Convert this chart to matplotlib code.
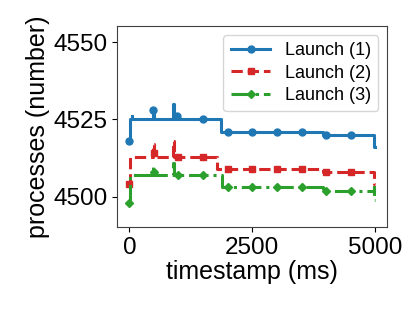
import matplotlib
matplotlib.use("Agg")
import matplotlib.pyplot as plt

plt.rcParams['font.family'] = ['Liberation Sans', 'DejaVu Sans']

# breakpoints (step-post), mark = marker drawn at that point
t1 = [0, 15, 45, 55, 490, 500, 895, 905, 970, 980, 1500, 1855, 2000, 2500, 3000, 3500, 3930, 4000, 4500, 4980, 4990]
y1 = [4518, 4525, 4526, 4525, 4528, 4525, 4530, 4525, 4526, 4525, 4525, 4521, 4521, 4521, 4521, 4521, 4520, 4520, 4520, 4516, 4516]
m1 = [0, 4, 8, 10, 12, 13, 14, 15, 17, 18]

t2 = [0, 20, 485, 495, 505, 895, 905, 990, 1500, 1780, 2000, 2500, 3000, 3500, 3930, 4000, 4500, 4980, 4990]
y2 = [4504, 4513, 4517, 4514, 4513, 4518, 4513, 4513, 4513, 4509, 4509, 4509, 4509, 4509, 4508, 4508, 4508, 4504, 4504]
m2 = [0, 3, 7, 8, 10, 11, 12, 13, 15, 16]

t3 = [0, 20, 485, 495, 505, 895, 905, 990, 1500, 1880, 2000, 2500, 3000, 3500, 3930, 4000, 4500, 4970, 4980, 4990]
y3 = [4498, 4507, 4510, 4508, 4507, 4511, 4507, 4507, 4507, 4503, 4503, 4503, 4503, 4503, 4502, 4502, 4502, 4503, 4499, 4499]
m3 = [0, 3, 7, 8, 10, 11, 12, 13, 15, 16]

labels = ['Launch (1)', 'Launch (2)', 'Launch (3)']
xticks = [0, 2500, 5000]
yticks = [4500, 4525, 4550]

fig = plt.figure(figsize=(4.15, 3.11), dpi=100)
ax = fig.add_axes([0.282, 0.270, 0.651, 0.646])

ax.plot(t1, y1, drawstyle='steps-post', color='#1f77b4', ls='-', lw=2.2,
        marker='o', ms=5, markevery=m1, label=labels[0])
ax.plot(t2, y2, drawstyle='steps-post', color='#d62728', ls='--', lw=2.2,
        marker='s', ms=5, markevery=m2, label=labels[1])
ax.plot(t3, y3, drawstyle='steps-post', color='#2ca02c', ls='-.', lw=2.2,
        marker='D', ms=4.5, markevery=m3, label=labels[2])

ax.set_xlim(-250, 5240)
ax.set_ylim(4490.2, 4555.2)
ax.set_xticks(xticks)
ax.set_yticks(yticks)
ax.tick_params(labelsize=17.5)
ax.set_xlabel('timestamp (ms)', fontsize=18, labelpad=1)
ax.set_ylabel('processes (number)', fontsize=18, labelpad=2)
for s in ax.spines.values():
    s.set_color('0.25')

ax.legend(loc='upper right', fontsize=13, handlelength=2.2,
          borderpad=0.4, labelspacing=0.3, handletextpad=0.8)

fig.savefig('out.png', dpi=100)
